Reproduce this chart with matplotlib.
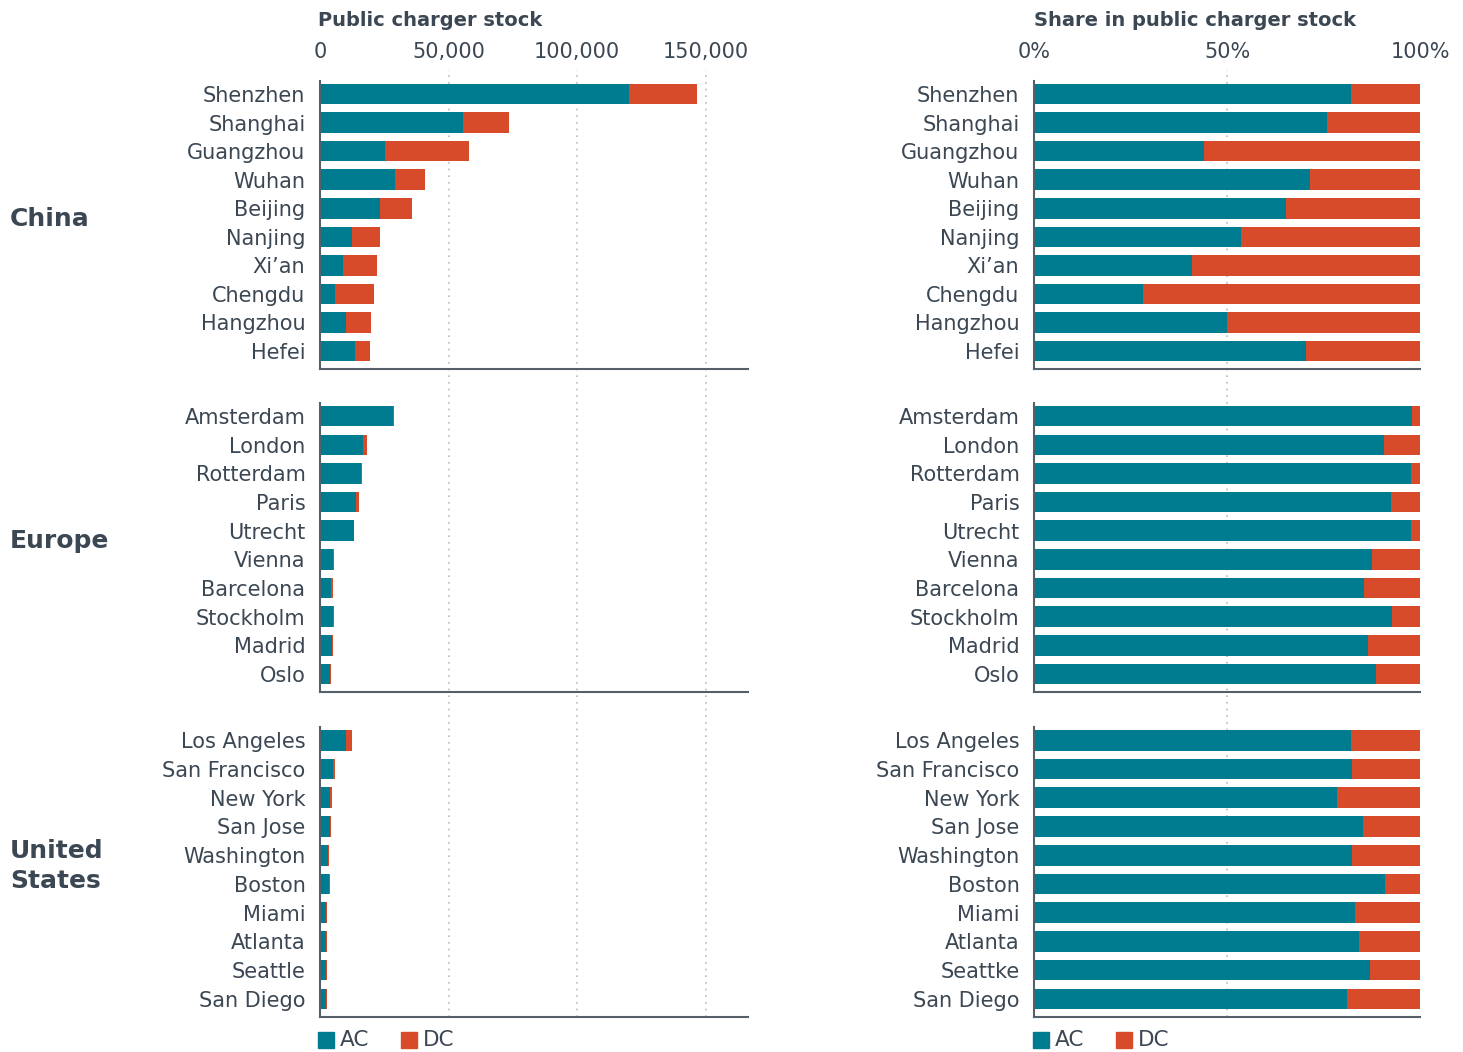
import matplotlib.pyplot as plt
import numpy as np

# charger counts; shares are derived from them
china_cities = ["Shenzhen", "Shanghai", "Guangzhou", "Wuhan", "Beijing",
                "Nanjing", "Xi\u2019an", "Chengdu", "Hangzhou", "Hefei"]
china_ac = [120300, 55700, 25400, 29300, 23200, 12600, 9100, 6000, 10000, 13800]
china_dc = [26300, 17700, 32400, 11700, 12400, 10900, 13200, 15200, 10000, 5800]

europe_cities = ["Amsterdam", "London", "Rotterdam", "Paris", "Utrecht",
                 "Vienna", "Barcelona", "Stockholm", "Madrid", "Oslo"]
europe_ac = [28300, 16700, 16100, 14150, 13100, 4900, 4450, 5200, 4500, 3900]
europe_dc = [600, 1700, 400, 1150, 300, 700, 750, 400, 700, 500]

us_cities = ["Los Angeles", "San Francisco", "New York", "San Jose", "Washington",
             "Boston", "Miami", "Atlanta", "Seattle", "San Diego"]
us_cities_share = ["Los Angeles", "San Francisco", "New York", "San Jose", "Washington",
                   "Boston", "Miami", "Atlanta", "Seattke", "San Diego"]
us_ac = [10100, 4950, 3770, 3750, 2970, 3640, 2330, 2360, 2440, 2270]
us_dc = [2200, 1050, 1030, 650, 630, 360, 470, 440, 360, 530]

groups = [
    ("China", china_cities, china_cities, china_ac, china_dc),
    ("Europe", europe_cities, europe_cities, europe_ac, europe_dc),
    ("United\nStates", us_cities, us_cities_share, us_ac, us_dc),
]

count_ticks = [0, 50000, 100000, 150000]
share_ticks = [0, 50, 100]

AC_COLOR = "#007c91"
DC_COLOR = "#d74a2a"
TEXT = "#3b4753"
SPINE = "#56606a"
GRID = "#b8bcc0"

W, H = 1463, 1052
fig = plt.figure(figsize=(W / 100, H / 100), dpi=100)


def box(x0, y0, x1, y1):
    """pixel box (top-left origin) -> figure fraction rect"""
    return [x0 / W, 1 - y1 / H, (x1 - x0) / W, (y1 - y0) / H]


left_x = (320, 748)
right_x = (1034, 1420)
count_max = 166500
rows_y = [(81, 369), (403, 692), (727, 1017)]

# background axes carrying the dotted gridlines across all three blocks
for (x0, x1), xmax, ticks in [(left_x, count_max, count_ticks[1:]),
                               (right_x, 100, share_ticks[1:2])]:
    bg = fig.add_axes(box(x0, 70, x1, 1017), zorder=0)
    bg.set_xlim(0, xmax)
    bg.set_ylim(0, 1)
    for t in ticks:
        bg.axvline(t, color=GRID, linestyle=(0, (1, 3)), linewidth=1.2)
    bg.axis("off")

for gi, (gname, cities_l, cities_r, ac, dc) in enumerate(groups):
    ac = np.array(ac, dtype=float)
    dc = np.array(dc, dtype=float)
    total = ac + dc
    y = np.arange(len(ac))
    y0, y1 = rows_y[gi]

    axl = fig.add_axes(box(left_x[0], y0, left_x[1], y1), zorder=2)
    axr = fig.add_axes(box(right_x[0], y0, right_x[1], y1), zorder=2)

    axl.barh(y, ac, height=0.72, color=AC_COLOR)
    axl.barh(y, dc, left=ac, height=0.72, color=DC_COLOR)
    axl.set_xlim(0, count_max)

    axr.barh(y, ac / total * 100, height=0.72, color=AC_COLOR)
    axr.barh(y, dc / total * 100, left=ac / total * 100, height=0.72, color=DC_COLOR)
    axr.set_xlim(0, 100)

    for ax, labels in [(axl, cities_l), (axr, cities_r)]:
        ax.set_facecolor("none")
        ax.set_ylim(9.63, -0.46)
        ax.set_yticks(y)
        ax.set_yticklabels(labels, fontsize=15, color=TEXT)
        ax.tick_params(axis="y", length=0, pad=10.5)
        for s in ["top", "right"]:
            ax.spines[s].set_visible(False)
        for s in ["left", "bottom"]:
            ax.spines[s].set_color(SPINE)
            ax.spines[s].set_linewidth(1.5)
        ax.xaxis.tick_top()
        ax.tick_params(axis="x", length=0, pad=14, labelsize=15, labelcolor=TEXT)

    if gi == 0:
        axl.set_xticks(count_ticks)
        axl.set_xticklabels([f"{t:,}" for t in count_ticks])
        axr.set_xticks(share_ticks)
        axr.set_xticklabels([f"{t}%" for t in share_ticks])
    else:
        axl.set_xticks([])
        axr.set_xticks([])

    fig.text(10 / W, 1 - (y0 + y1) / 2 / H + 0.006, gname, fontsize=18,
             fontweight="bold", color=TEXT, ha="left", va="center", linespacing=1.3)

fig.text(318 / W, 1 - 21 / H, "Public charger stock", fontsize=14,
         fontweight="bold", color=TEXT, ha="left", va="center")
fig.text(1034 / W, 1 - 21 / H, "Share in public charger stock", fontsize=14,
         fontweight="bold", color=TEXT, ha="left", va="center")

# legends drawn by hand under each column
for x0 in (318, 1033):
    for dx, color, label in [(0, AC_COLOR, "AC"), (83, DC_COLOR, "DC")]:
        fig.patches.append(plt.Rectangle(((x0 + dx) / W, 1 - 1048 / H), 16 / W, 16 / H,
                                         transform=fig.transFigure, color=color))
        fig.text((x0 + dx + 22) / W, 1 - 1040 / H, label, fontsize=15.5,
                 color=TEXT, ha="left", va="center")

fig.savefig("out.png", dpi=100)
